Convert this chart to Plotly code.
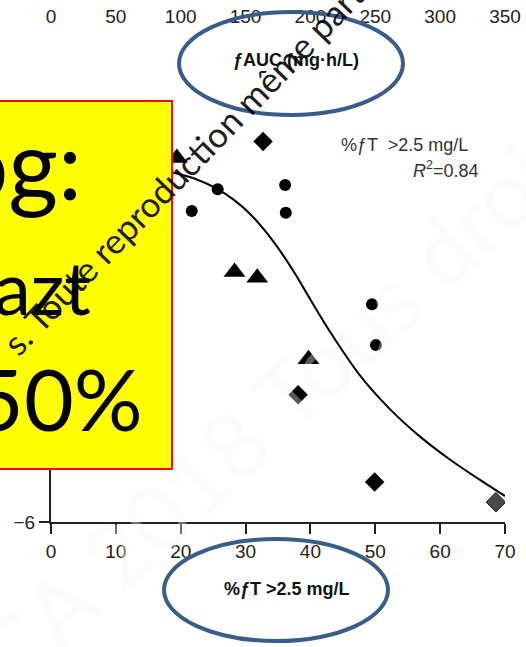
import plotly.graph_objects as go

# ---- data -------------------------------------------------------------
circle_x = [21.7, 25.7, 36.1, 36.2, 49.5, 50.1]
circle_y = [1.07, 1.56, 1.66, 1.03, -1.05, -1.98]

triangle_x = [19.4, 28.3, 31.8, 39.7]
triangle_y = [2.27, -0.32, -0.45, -2.30]

diamond_x = [32.7, 38.1, 49.9]
diamond_y = [2.65, -3.11, -5.09]

grey_diamond_x = [68.6]
grey_diamond_y = [-5.55]

fit_x = [18.7, 22.2, 25.75, 28.2, 30.7, 33.2, 35.8, 37.85, 39.9, 43.0, 47.6, 52.3,
         56.9, 61.5, 66.2, 70.0]
fit_y = [1.95, 1.80, 1.56, 1.32, 1.00, 0.58, 0.06, -0.41, -0.92, -1.67, -2.66, -3.44,
         -4.06, -4.58, -5.05, -5.41]

ft_ticks = [0, 10, 20, 30, 40, 50, 60, 70]
auc_ticks = [0, 50, 100, 150, 200, 250, 300, 350]
y_ticks = [-6, -4, -2, 0, 2]
y_ticktext = ["\u22126", "\u22124", "\u22122", "0", "2"]

# ---- page geometry ----------------------------------------------------
W_PAGE, H_PAGE = 526, 647
M_L, M_R, M_T, M_B = 51, 21, 0, 125
PW = W_PAGE - M_L - M_R
PH = H_PAGE - M_T - M_B


def fx(p):
    return (p - M_L) / PW


def fy(p):
    return (M_T + PH - p) / PH


INK = "#222222"
AX_FONT = dict(family="Liberation Sans, Arial, sans-serif", size=19, color=INK)

fig = go.Figure()

fig.add_trace(go.Scatter(
    x=fit_x, y=fit_y, mode="lines",
    line=dict(color="black", width=2, shape="spline", smoothing=0.8),
    hoverinfo="skip", showlegend=False))

fig.add_trace(go.Scatter(
    x=circle_x, y=circle_y, mode="markers",
    marker=dict(symbol="circle", size=12, color="black"), showlegend=False))

fig.add_trace(go.Scatter(
    x=triangle_x, y=triangle_y, mode="markers",
    marker=dict(symbol="triangle-up", size=19, color="black"), showlegend=False))

fig.add_trace(go.Scatter(
    x=diamond_x, y=diamond_y, mode="markers",
    marker=dict(symbol="diamond", size=15, color="black"), showlegend=False))

fig.add_trace(go.Scatter(
    x=grey_diamond_x, y=grey_diamond_y, mode="markers",
    marker=dict(symbol="diamond", size=15, color="#4a4a4a",
                line=dict(color="#111111", width=1)), showlegend=False))

# upper-panel axis (fAUC) sharing the same horizontal span
fig.add_trace(go.Scatter(x=[None], y=[None], xaxis="x2", yaxis="y", showlegend=False))

fig.update_layout(
    width=W_PAGE, height=H_PAGE,
    margin=dict(l=M_L, r=M_R, t=M_T, b=M_B, pad=0),
    paper_bgcolor="white", plot_bgcolor="white",
    xaxis=dict(range=[0, 70], tickvals=ft_ticks, showgrid=False, zeroline=False,
               showline=True, linecolor=INK, linewidth=2,
               ticks="outside", ticklen=10, tickwidth=2, tickcolor=INK,
               tickfont=AX_FONT, ticklabelstandoff=1),
    yaxis=dict(range=[-6, 3.5], domain=[0, fy(104)], tickvals=y_ticks, ticktext=y_ticktext,
               showgrid=False, zeroline=False, showline=True, linecolor=INK, linewidth=2,
               ticks="outside", ticklen=10, tickwidth=2, tickcolor=INK,
               tickfont=AX_FONT),
    xaxis2=dict(range=[0, 350], tickvals=auc_ticks, overlaying="x", anchor="free",
                position=1, side="bottom", showgrid=False, zeroline=False,
                showline=False, ticks="", tickfont=AX_FONT, ticklabelstandoff=3),
)

shapes = []
# highlighted text box
shapes.append(dict(type="rect", xref="paper", yref="paper", layer="above",
                   x0=fx(-10), x1=fx(172), y0=fy(469), y1=fy(101),
                   fillcolor="#FFFF00", line=dict(color="#FF0000", width=2)))
# ellipses around the axis titles
ELL = "#385D8A"
shapes.append(dict(type="circle", xref="paper", yref="paper", layer="above",
                   x0=fx(179), x1=fx(403), y0=fy(115), y1=fy(12),
                   line=dict(color=ELL, width=4)))
shapes.append(dict(type="circle", xref="paper", yref="paper", layer="above",
                   x0=fx(164), x1=fx(388), y0=fy(641), y1=fy(539),
                   line=dict(color=ELL, width=4)))
fig.update_layout(shapes=shapes)

ann = []
# axis titles
ann.append(dict(xref="paper", yref="paper", x=fx(287), y=fy(589), showarrow=False,
                text="<b>%\u0192T >2.5 mg/L</b>", xanchor="center", yanchor="middle",
                font=dict(family="Liberation Sans, Arial, sans-serif", size=18, color="#111")))
ann.append(dict(xref="paper", yref="paper", x=fx(296), y=fy(60), showarrow=False,
                text="<b>\u0192AUC (mg\u00b7h/L)</b>", xanchor="center", yanchor="middle",
                font=dict(family="Liberation Sans, Arial, sans-serif", size=18, color="#111")))
# fit label
ann.append(dict(xref="paper", yref="paper", x=fx(339), y=fy(145), showarrow=False,
                text="%\u0192T  >2.5 mg/L", xanchor="left", yanchor="middle",
                font=dict(family="Liberation Sans, Arial, sans-serif", size=18, color="#333")))
ann.append(dict(xref="paper", yref="paper", x=fx(481), y=fy(170), showarrow=False,
                text="<i>R</i><sup>2</sup>=0.84", xanchor="right", yanchor="middle",
                font=dict(family="Liberation Sans, Arial, sans-serif", size=18, color="#333")))
# large text in the highlighted box
BIG = "Lato, Carlito, sans-serif"
ann.append(dict(xref="paper", yref="paper", x=fx(84), y=fy(163), showarrow=False,
                text="og:", xanchor="right", yanchor="middle",
                font=dict(family=BIG, size=96, color="black")))
ann.append(dict(xref="paper", yref="paper", x=fx(93), y=fy(286), showarrow=False,
                text="azt", xanchor="right", yanchor="middle",
                font=dict(family=BIG, size=74, color="black")))
ann.append(dict(xref="paper", yref="paper", x=fx(145), y=fy(397), showarrow=False,
                text="50%", xanchor="right", yanchor="middle",
                font=dict(family=BIG, size=86, color="black")))
# faint background copyright stamp
ann.append(dict(xref="paper", yref="paper", x=fx(290), y=fy(390), showarrow=False,
                text="CA 2018 Tous droits", textangle=-43, xanchor="center", yanchor="middle",
                font=dict(family="Lato, sans-serif", size=92,
                          color="rgba(255,255,255,0.35)",
                          shadow="0px 0px 1px rgba(0,0,0,0.05)")))
# diagonal copyright line
ann.append(dict(xref="paper", yref="paper", x=fx(192), y=fy(158), showarrow=False,
                text="s. Toute reproduction m\u00eame partie", textangle=-46,
                xanchor="center", yanchor="middle",
                font=dict(family="Lato, sans-serif", size=35, color="rgba(0,0,0,0.9)")))
fig.update_layout(annotations=ann)

fig.write_html("out.html")
